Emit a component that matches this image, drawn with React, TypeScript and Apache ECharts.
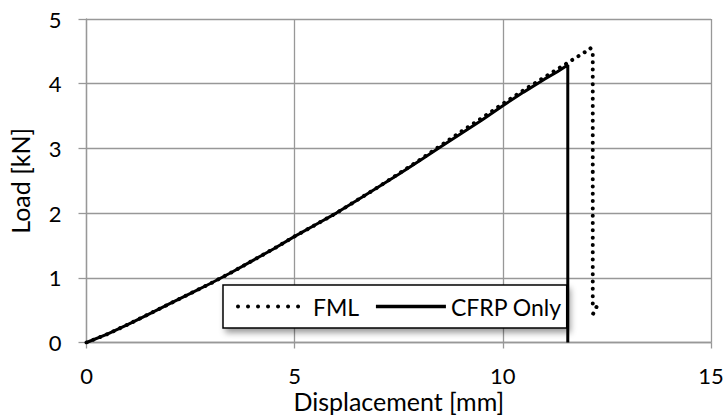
import React, { useEffect, useRef } from "react";
import * as echarts from "echarts";

const xTicks = [0, 5, 10, 15];
const yTicks = [0, 1, 2, 3, 4, 5];

const fmlDisp = [0, 0.5, 1, 1.5, 2, 2.5, 3, 3.5, 4, 4.5, 5, 5.5, 6, 6.5, 7, 7.5, 8, 8.5, 9, 9.5, 10, 10.5, 11, 11.5, 11.8, 12.0, 12.1, 12.16, 12.16, 12.25, 12.15];
const fmlLoad = [0, 0.13, 0.28, 0.44, 0.6, 0.76, 0.92, 1.09, 1.27, 1.45, 1.64, 1.82, 2.0, 2.2, 2.4, 2.61, 2.82, 3.04, 3.26, 3.47, 3.69, 3.9, 4.1, 4.3, 4.42, 4.5, 4.55, 4.5, 0.55, 0.55, 0.42];

const cfrpDisp = [0, 0.5, 1, 1.5, 2, 2.5, 3, 3.5, 4, 4.5, 5, 5.5, 6, 6.5, 7, 7.5, 8, 8.5, 9, 9.5, 10, 10.5, 11, 11.3, 11.56, 11.56];
const cfrpLoad = [0, 0.13, 0.28, 0.44, 0.6, 0.76, 0.92, 1.09, 1.27, 1.45, 1.64, 1.82, 2.0, 2.2, 2.4, 2.6, 2.81, 3.02, 3.23, 3.44, 3.66, 3.87, 4.07, 4.18, 4.29, 0];

const FONT = "Lato";

export default function App() {
  const ref = useRef<HTMLDivElement>(null);
  useEffect(() => {
    if (!ref.current) return;
    const chart = echarts.init(ref.current, undefined, { renderer: "svg" });
    const gridColor = "#989898";
    const dotted = { color: "#000", width: 4, type: [0.01, 7.3], cap: "round" };
    chart.setOption({
      animation: false,
      textStyle: { fontFamily: FONT },
      grid: { left: 86.5, right: 14, top: 19, bottom: 73.5, containLabel: false, outerBoundsMode: "none" },
      legend: {
        left: 223,
        top: 285,
        orient: "horizontal",
        itemWidth: 70,
        itemHeight: 14,
        itemGap: 15,
        padding: [10, 5, 10, 13],
        backgroundColor: "#fff",
        borderColor: "#000",
        borderWidth: 1.5,
        borderRadius: 0,
        shadowBlur: 6,
        shadowColor: "rgba(0,0,0,0.4)",
        shadowOffsetX: 3,
        shadowOffsetY: 4,
        itemStyle: { opacity: 0 },
        textStyle: { fontFamily: FONT, fontSize: 23, color: "#000" },
        data: [
          { name: "FML", lineStyle: { color: "#000", width: 4, type: [0.01, 10], cap: "round" } },
          { name: "CFRP Only", lineStyle: { color: "#000", width: 3.5, type: "solid" } },
        ],
      },
      xAxis: {
        type: "value",
        min: 0,
        max: 15,
        interval: 5,
        name: "Displacement [mm]",
        nameLocation: "middle",
        nameGap: 46,
        nameMoveOverlap: false,
        nameTextStyle: { fontFamily: FONT, fontSize: 25, color: "#000" },
        axisLine: { show: true, onZero: false, lineStyle: { color: gridColor, width: 1.3 } },
        axisTick: { show: true, length: 6, lineStyle: { color: gridColor, width: 1.3 } },
        axisLabel: { fontFamily: FONT, fontSize: 22, color: "#000", margin: 22, formatter: (v: number) => (xTicks.includes(v) ? String(v) : "") },
        splitLine: { show: true, lineStyle: { color: gridColor, width: 1.3 } },
      },
      yAxis: {
        type: "value",
        min: 0,
        max: 5,
        interval: 1,
        name: "Load [kN]",
        nameLocation: "middle",
        nameGap: 54,
        nameMoveOverlap: false,
        nameTextStyle: { fontFamily: FONT, fontSize: 25, color: "#000" },
        axisLine: { show: true, lineStyle: { color: gridColor, width: 1.3 } },
        axisTick: { show: true, length: 8, lineStyle: { color: gridColor, width: 1.3 } },
        axisLabel: { fontFamily: FONT, fontSize: 22, color: "#000", margin: 25, formatter: (v: number) => (yTicks.includes(v) ? String(v) : "") },
        splitLine: { show: true, lineStyle: { color: gridColor, width: 1.3 } },
      },
      series: [
        {
          name: "FML",
          type: "line",
          symbol: "none",
          smooth: false,
          data: fmlDisp.map((d, i) => [d, fmlLoad[i]]),
          lineStyle: dotted,
          itemStyle: { color: "#000" },
        },
        {
          name: "CFRP Only",
          type: "line",
          symbol: "none",
          smooth: false,
          data: cfrpDisp.map((d, i) => [d, cfrpLoad[i]]),
          lineStyle: { color: "#000", width: 3, type: "solid" },
          itemStyle: { color: "#000" },
        },
      ],
    });
    return () => chart.dispose();
  }, []);
  return <div ref={ref} style={{ width: 725, height: 416, position: "absolute", left: 0, top: 0, background: "#fff" }} />;
}
